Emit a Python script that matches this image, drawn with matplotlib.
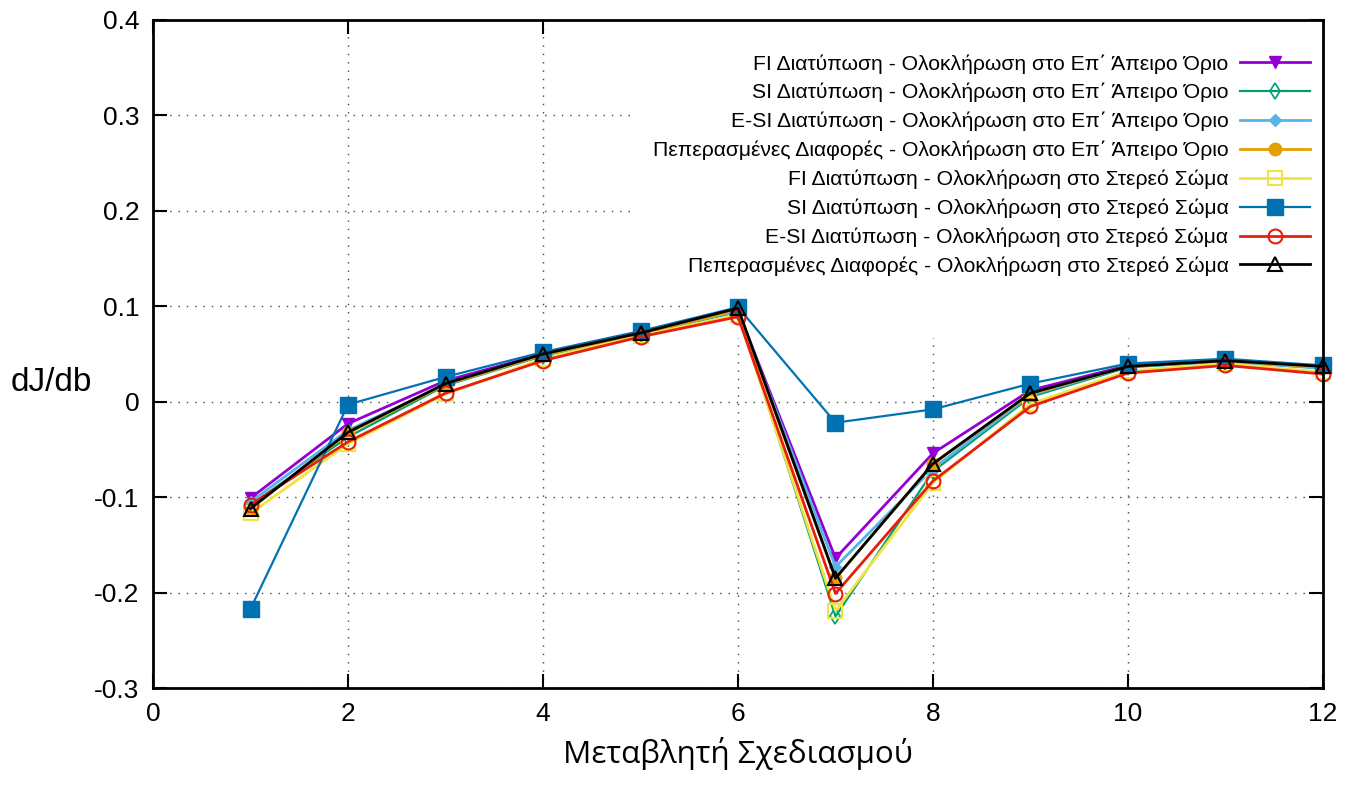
import numpy as np
import matplotlib.pyplot as plt
from matplotlib.patches import Rectangle
from matplotlib.ticker import FuncFormatter

plt.rcParams['font.family'] = ['Liberation Sans', 'DejaVu Sans']

# design variables
variables = [1, 2, 3, 4, 5, 6, 7, 8, 9, 10, 11, 12]

# sensitivities dJ/db, far-field integration
fi_far = [-0.101, -0.023, 0.022, 0.050, 0.072, 0.095, -0.164, -0.054, 0.012, 0.038, 0.043, 0.036]
si_far = [-0.108, -0.037, 0.017, 0.048, 0.071, 0.094, -0.225, -0.073, 0.005, 0.036, 0.042, 0.035]
esi_far = [-0.105, -0.030, 0.018, 0.049, 0.071, 0.095, -0.173, -0.070, 0.007, 0.037, 0.042, 0.035]
fd_far = [-0.112, -0.033, 0.018, 0.049, 0.071, 0.096, -0.185, -0.065, 0.008, 0.037, 0.043, 0.036]

# sensitivities dJ/db, solid-body integration
fi_solid = [-0.117, -0.044, 0.008, 0.045, 0.069, 0.091, -0.219, -0.085, -0.002, 0.032, 0.040, 0.031]
si_solid = [-0.217, -0.003, 0.026, 0.052, 0.074, 0.099, -0.022, -0.008, 0.019, 0.040, 0.045, 0.038]
esi_solid = [-0.108, -0.042, 0.009, 0.043, 0.068, 0.089, -0.201, -0.083, -0.005, 0.030, 0.038, 0.029]
fd_solid = [-0.112, -0.032, 0.019, 0.050, 0.072, 0.098, -0.185, -0.065, 0.009, 0.037, 0.043, 0.037]

labels = [
    "FI Διατύπωση - Ολοκλήρωση στο Επ΄ Άπειρο Όριο",
    "SI Διατύπωση - Ολοκλήρωση στο Επ΄ Άπειρο Όριο",
    "E-SI Διατύπωση - Ολοκλήρωση στο Επ΄ Άπειρο Όριο",
    "Πεπερασμένες Διαφορές - Ολοκλήρωση στο Επ΄ Άπειρο Όριο",
    "FI Διατύπωση - Ολοκλήρωση στο Στερεό Σώμα",
    "SI Διατύπωση - Ολοκλήρωση στο Στερεό Σώμα",
    "E-SI Διατύπωση - Ολοκλήρωση στο Στερεό Σώμα",
    "Πεπερασμένες Διαφορές - Ολοκλήρωση στο Στερεό Σώμα",
]

series = [fi_far, si_far, esi_far, fd_far, fi_solid, si_solid, esi_solid, fd_solid]

styles = [
    dict(color="#9400d3", marker="v", mfc="#9400d3", ms=9, lw=2),
    dict(color="#009e73", marker="d", mfc="none", ms=8, lw=1.6, mew=1.2),
    dict(color="#56b4e9", marker="D", mfc="#56b4e9", ms=6, lw=2),
    dict(color="#e69f00", marker="o", mfc="#e69f00", ms=9, lw=2),
    dict(color="#f0e442", marker="s", mfc="none", ms=10, lw=2, mew=1.5),
    dict(color="#0072b2", marker="s", mfc="#0072b2", ms=11, lw=1.6),
    dict(color="#e51e10", marker="o", mfc="none", ms=10, lw=2, mew=1.5),
    dict(color="black", marker="^", mfc="none", ms=10, lw=2, mew=1.5),
]

fig = plt.figure(figsize=(13.58, 7.89), dpi=100)
ax = fig.add_axes([0.1127, 0.128, 0.8615, 0.8467])
ax.set_axisbelow(True)

for vals, lab, st in zip(series, labels, styles):
    ax.plot(variables, vals, label=lab, clip_on=False, **st)

ax.set_xlim(0, 12)
ax.set_ylim(-0.3, 0.4)
ax.set_xticks(np.arange(0, 13, 2))
ax.set_yticks(np.arange(-0.3, 0.41, 0.1))
ax.yaxis.set_major_formatter(FuncFormatter(lambda v, p: "0" if abs(v) < 1e-9 else f"{v:.1f}"))

ax.grid(True, color="#444444", linestyle=(0, (1, 5)), linewidth=1)
ax.tick_params(direction="in", length=10, width=1.5, labelsize=19, pad=10,
               top=True, right=True)
for sp in ax.spines.values():
    sp.set_linewidth(2)

# opaque key area hiding the grid behind the legend
for x0, y0 in [(0.411, 0.581), (0.461, 0.524)]:
    ax.add_patch(Rectangle((x0, y0), 1 - x0, 1 - y0, transform=ax.transAxes,
                           facecolor="white", edgecolor="none", zorder=1))

ax.set_xlabel("Μεταβλητή Σχεδιασμού", fontsize=22.6, labelpad=8,
              family=["Open Sans", "DejaVu Sans"])
ax.set_ylabel("dJ/db", fontsize=24, rotation=0, va="center", ha="center")
ax.yaxis.set_label_coords(-0.087, 0.458)

leg = ax.legend(loc="upper right", bbox_to_anchor=(0.989, 0.949), markerfirst=False,
                frameon=False, handlelength=3.3, handletextpad=0.57,
                labelspacing=0.445, borderpad=0, borderaxespad=0,
                prop={"family": ["Liberation Sans", "DejaVu Sans"], "size": 15.2})

fig.savefig("out.png", dpi=100)
